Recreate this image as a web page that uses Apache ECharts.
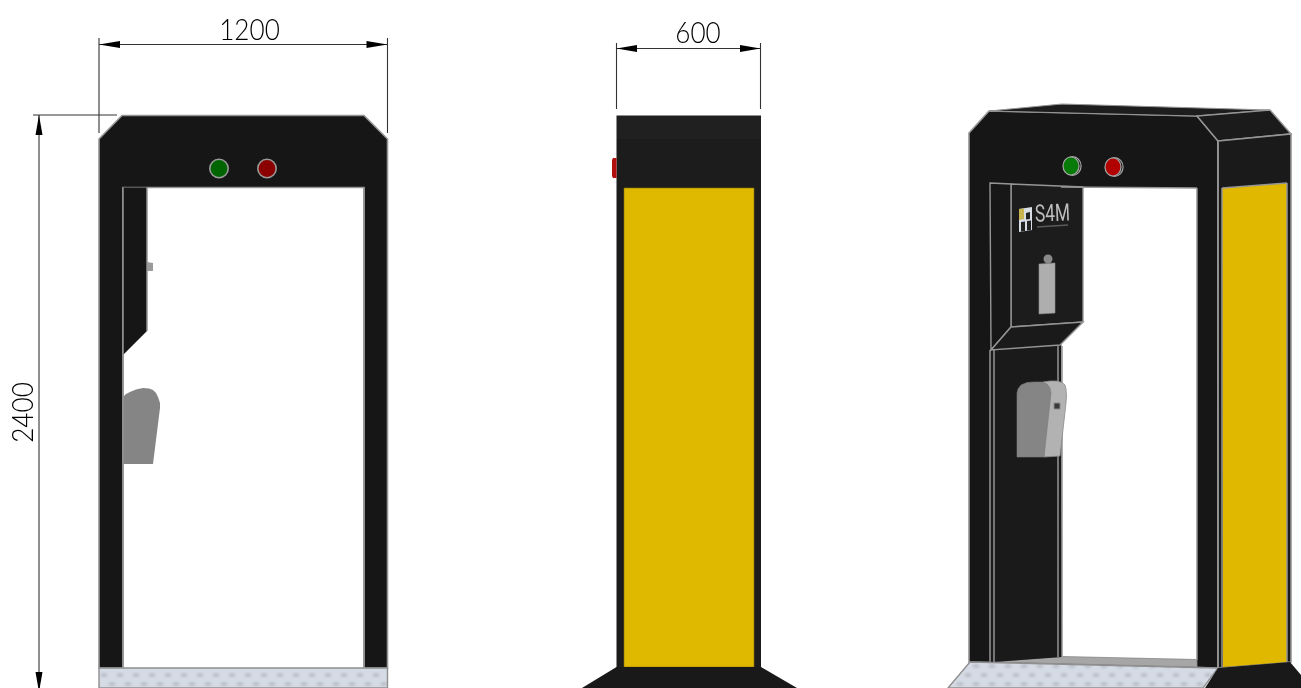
<!DOCTYPE html>
<html><head><meta charset="utf-8">
<style>html,body{margin:0;padding:0;background:#fff}#c{width:1301px;height:688px}</style>
<script src="https://cdn.jsdelivr.net/npm/echarts@6/dist/echarts.min.js"></script>
</head><body><div id="c"></div>
<script>
const dimensionLabels = ['1200', '600', '2400'];
const dimensionLabelAnchors = [[249.5, 31], [698, 34], [24, 412.5]];

const frontFrame = [[122,115.5],[364,115.5],[387.5,139],[387.5,668],[364,668],[364,187.5],[123,187.5],[123,668],[99,668],[99,139]];
const frontPanel = [[123,187.5],[147,187.5],[147,331],[123,355]];
const frontKnob = [[147,262],[153,263],[153,271],[147,271]];
const frontDispenser = [[123,397],[126,394],[130,392],[136,389.5],[143,388],[149,388.5],[153,390],[156,393],[158,397],[160,403],[160,408],[153,464],[123,464]];
const frontMat = [[99,668],[387.5,668],[387.5,688],[99,688]];

const sideTop = [[616.5,115.5],[761,115.5],[761,139],[616.5,139]];
const sideBody = [[616.5,139],[761,139],[761,668],[616.5,668]];
const sideKnob = [[613,158],[616.5,158],[616.5,178],[613,178],[612,176],[612,160]];
const sideYellow = [[624,188],[754,188],[754,667],[624,667]];
const sideBase = [[616.5,667],[761,667],[797,688],[582,688]];

const isoBack = [[969,133],[989,111],[1197,116],[1218,141],[1218,668],[969,662]];
const isoRoof = [[989,111],[1062,104],[1270,110],[1197,116]];
const isoChamfer = [[1197,116],[1270,110],[1291,134],[1218,141]];
const isoSide = [[1218,141],[1291,134],[1291,662],[1218,668]];
const isoYellow = [[1222,188],[1287,183],[1287,662],[1223,667]];
const isoOpening = [[1061,187],[1197,188],[1197,660],[1062,657]];
const isoFloor = [[993,662],[1062,656.5],[1197,659.5],[1197,667]];
const isoWall = [[990,183],[1011,184],[1083,187],[1083,322],[1060,345],[1062,657],[993,662],[990,662]];
const isoPanelFace = [[1011,184],[1083,187],[1083,322],[1011,327]];
const isoPanelSide = [[990,183],[1011,184],[1011,327],[991,350]];
const isoPanelBottom = [[1011,327],[1083,322],[1060,345],[991,350]];
const isoMat = [[970,662],[1218,668],[1203,688],[948,688]];
const isoBase = [[1218,668],[1290,662],[1301,675],[1301,688],[1205,688]];
const isoSprayer = [[1039,264],[1055,263],[1055,313],[1039,314]];
const isoDispenserSide = [[1043,382],[1050,381],[1057,381],[1062,382.5],[1065,385],[1066,389],[1066.5,396],[1066,403],[1060,456],[1044,457]];
const isoDispenserFront = [[1017,393],[1018,389],[1021,385],[1027,382.5],[1034,382],[1043,382],[1047,384],[1050,388],[1051,393],[1044,457],[1017,457]];
const isoDispenserTag = [[1054,403],[1060,403],[1060,409],[1054,409]];
const logoPlate = [[1019,209],[1032,207],[1032,230],[1019,232]];
const logoGold = [[1019,209],[1024,208.5],[1024,219],[1019,220]];
const logoFigure = [[1026,213],[1030,212],[1030,219],[1026,219.5]];
const logoBlockA = [[1021,222],[1025,221.5],[1025,231],[1021,231.5]];
const logoBlockB = [[1027,221],[1031,220.5],[1031,230],[1027,230.5]];
const logoStrap = [[1037,227],[1068,225]];

const frontLamps = [[219,168.5,9.2,9.2,'#006400'],[267,168.5,9.2,9.2,'#8b0000']];
const isoLampRims = [[1072.5,166,8.6,9.4,'#161616'],[1114.5,167,8.6,9.4,'#161616']];
const isoLamps = [[1071,166,8,9,'#087a08'],[1113,167,8,9,'#b00000']];
const isoSprayerKnob = [[1048,259,4.5,4.5,'#8a8a8a']];

const leaders = [
  [[99,38],[99,133]], [[387.5,38],[387.5,133]], [[99,44.5],[387.5,44.5]],
  [[616.5,43],[616.5,109]], [[760.5,43],[760.5,109]], [[616.5,48.5],[760.5,48.5]],
  [[33,115],[117,115]], [[39,115],[39,688]]
];
const arrowHeads = [
  [[99,44.5],[120,41],[120,48]], [[387.5,44.5],[366.5,41],[366.5,48]],
  [[616.5,48.5],[637,45],[637,52]], [[760.5,48.5],[740,45],[740,52]],
  [[39,115],[35.5,135],[42.5,135]], [[39,692],[35.5,672],[42.5,672]]
];
const edgeLines = [
  [[123,187.5],[123,668]], [[364,187.5],[364,668]], [[147,187.5],[147,331]],
  [[990,350],[990,662]], [[994,349.5],[994,662]], [[1058,346],[1058,657]], [[1062,346],[1062,657]],
  [[1218,141],[1218,668]], [[1222,188],[1222,667]], [[1222,188],[1287,183]],
  [[1287,183],[1287,662]], [[1197,188],[1197,660]], [[1061,187],[1197,188]]
];

// ---- styling table built from the arrays ----
const edge = '#959595';
const matTile = document.createElement('canvas');
matTile.width = 16; matTile.height = 18;
(function () {
  const g = matTile.getContext('2d');
  g.fillStyle = '#d5dbe5'; g.fillRect(0, 0, 16, 18);
  g.fillStyle = '#bcc1ca';
  g.filter = 'blur(0.8px)';
  [[8,9],[0,0],[16,0],[0,18],[16,18]].forEach(function (p) {
    g.beginPath(); g.ellipse(p[0], p[1], 3.6, 2, 0, 0, Math.PI * 2); g.fill();
  });
})();
const matFill = { image: matTile, repeat: 'repeat' };

const polygons = [
  [frontFrame,'#161616',edge,1.6],[frontPanel,'#161616',null,0],[frontKnob,'#9b9b9b',null,0],
  [frontDispenser,'#858585',null,0],[frontMat,matFill,'#8f8f8f',1.4],
  [sideBody,'#1c1c1c',null,0],[sideTop,'#202020',null,0],[sideKnob,'#b40f0f',null,0],
  [sideYellow,'#dfb800','#8a7408',0.6],[sideBase,'#191919',null,0],
  [isoBack,'#161616',edge,1.6],[isoRoof,'#1d1d1d',edge,1.2],[isoChamfer,'#1b1b1b',edge,1.4],
  [isoSide,'#1a1a1a',edge,1.6],[isoYellow,'#e0b800',null,0],
  [isoOpening,'#ffffff',null,0],[isoFloor,'#a6a6a6','#8a8a8a',0.8],
  [isoWall,'#1a1a1a',null,0],[isoPanelFace,'#1c1c1c',edge,1.4],[isoPanelSide,'#171717',edge,1.4],
  [isoPanelBottom,'#1a1a1a',edge,1.4],[isoMat,matFill,'#8f8f8f',1.4],[isoBase,'#191919',null,0]
];
const overlays = [
  [isoSprayer,'#aeaeae','#8f8f8f',0.6],[isoDispenserSide,'#b2b2b2','#8c8c8c',0.8],
  [isoDispenserFront,'#858585','#7a7a7a',0.6],[isoDispenserTag,'#3a3a3a','#8a8a8a',1],
  [logoPlate,'#d9dde6',null,0],[logoGold,'#c9b54f',null,0],[logoFigure,'#222222',null,0],
  [logoBlockA,'#222222',null,0],[logoBlockB,'#222222',null,0]
];

function polyItem(row) {
  return function (params, api) {
    const pts = row[0].map(function (p) { return api.coord(p); });
    return { type: 'polygon', shape: { points: pts },
      style: { fill: row[1], stroke: row[2] || 'none', lineWidth: row[3], lineJoin: 'miter' } };
  };
}
function polySeries(list, z) {
  return list.map(function (row) {
    return { type: 'custom', coordinateSystem: 'cartesian2d', silent: true, clip: true, z: z,
      data: [row[0][0]], renderItem: polyItem(row), animation: false };
  });
}
function lineSeries(list, color, width, z) {
  return { type: 'custom', coordinateSystem: 'cartesian2d', silent: true, z: z, animation: false,
    data: list.map(function (seg, i) { return [seg[0][0], seg[0][1], i]; }),
    renderItem: function (params, api) {
      const seg = list[params.dataIndex];
      return { type: 'polyline', shape: { points: seg.map(function (p) { return api.coord(p); }) },
        style: { stroke: color, lineWidth: width, fill: 'none' } };
    } };
}
function ellipseSeries(list, stroke, width, z) {
  return { type: 'custom', coordinateSystem: 'cartesian2d', silent: true, z: z, animation: false,
    data: list.map(function (e) { return [e[0], e[1]]; }),
    renderItem: function (params, api) {
      const e = list[params.dataIndex], c = api.coord([e[0], e[1]]), s = api.size([e[2], e[3]]);
      return { type: 'ellipse', shape: { cx: c[0], cy: c[1], rx: s[0], ry: s[1] },
        style: { fill: e[4], stroke: stroke, lineWidth: width } };
    } };
}
const arrowSeries = { type: 'custom', coordinateSystem: 'cartesian2d', silent: true, z: 9, animation: false,
  data: arrowHeads.map(function (a) { return a[0]; }),
  renderItem: function (params, api) {
    return { type: 'polygon', shape: { points: arrowHeads[params.dataIndex].map(function (p) { return api.coord(p); }) },
      style: { fill: '#000' } };
  } };
const labelSeries = { type: 'custom', coordinateSystem: 'cartesian2d', silent: true, z: 9, animation: false,
  data: dimensionLabelAnchors,
  renderItem: function (params, api) {
    const i = params.dataIndex, c = api.coord(dimensionLabelAnchors[i]);
    return { type: 'text', x: c[0], y: c[1], scaleX: 0.9, rotation: i === 2 ? Math.PI / 2 : 0,
      style: { text: dimensionLabels[i], fill: '#000', font: '300 29px Lato, "Open Sans", sans-serif',
        align: 'center', verticalAlign: 'middle' } };
  } };
const logoText = { type: 'custom', coordinateSystem: 'cartesian2d', silent: true, z: 8, animation: false,
  data: [[1052.5, 215]],
  renderItem: function (params, api) {
    const c = api.coord([1052.5, 215]);
    return { type: 'text', x: c[0], y: c[1], scaleX: 0.72, rotation: 0.04,
      style: { text: 'S4M', fill: '#bdbdbd', font: '400 24px Roboto, sans-serif', align: 'center', verticalAlign: 'middle' } };
  } };

const chart = echarts.init(document.getElementById('c'), null, { renderer: 'canvas' });
chart.setOption({
  animation: false,
  backgroundColor: '#fff',
  grid: { left: 0, right: 0, top: 0, bottom: 0 },
  xAxis: { type: 'value', min: 0, max: 1301, show: false },
  yAxis: { type: 'value', min: 0, max: 688, inverse: true, show: false },
  tooltip: { show: false },
  series: polySeries(polygons, 2).concat([
    lineSeries(edgeLines, edge, 1.5, 4),
    lineSeries([logoStrap], '#5a5a5a', 1.5, 5)
  ], polySeries(overlays, 6), [
    lineSeries(leaders, '#333', 1.1, 8),
    ellipseSeries(frontLamps, '#9a9a9a', 1.6, 7),
    ellipseSeries(isoLampRims, '#a5a5a5', 1.2, 6),
    ellipseSeries(isoLamps, '#a5a5a5', 1.2, 7),
    ellipseSeries(isoSprayerKnob, 'none', 0, 7),
    arrowSeries, labelSeries, logoText
  ])
});
</script></body></html>
